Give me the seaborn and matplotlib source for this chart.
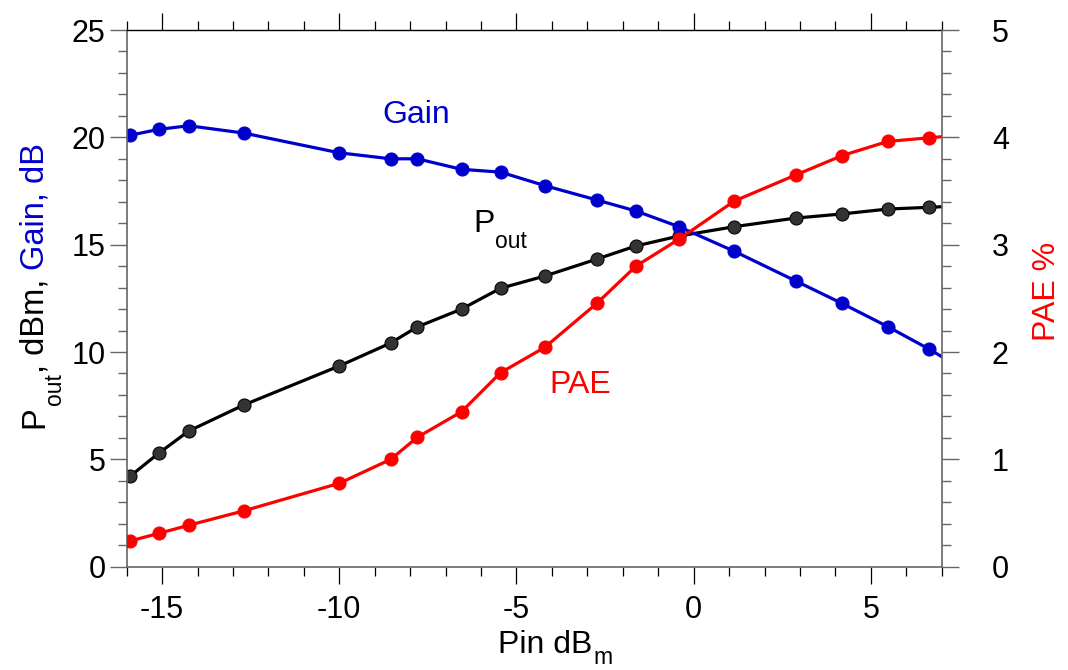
import numpy as np
import pandas as pd
import matplotlib
matplotlib.use("Agg")
import matplotlib.pyplot as plt
import seaborn as sns
from matplotlib.ticker import MultipleLocator
from matplotlib.transforms import IdentityTransform

# ---- data ----
pin = [-15.9, -15.1, -14.25, -12.7, -10.0, -8.55, -7.8, -6.55, -5.45, -4.2,
       -2.73, -1.63, -0.42, 1.15, 2.88, 4.18, 5.48, 6.65, 7.9]
gain = [20.1, 20.37, 20.54, 20.2, 19.28, 19.0, 19.0, 18.51, 18.38, 17.75,
        17.08, 16.57, 15.84, 14.69, 13.31, 12.27, 11.18, 10.13, 8.9]
pout = [4.22, 5.28, 6.32, 7.53, 9.35, 10.42, 11.17, 12.0, 12.97, 13.54,
        14.33, 14.94, 15.4, 15.84, 16.24, 16.43, 16.66, 16.74, 16.84]
pae = [0.24, 0.31, 0.386, 0.52, 0.777, 1.0, 1.205, 1.444, 1.807, 2.044,
       2.454, 2.80, 3.05, 3.407, 3.649, 3.829, 3.962, 3.996, 4.03]

x_ticks = [-15, -10, -5, 0, 5]
left_ticks = [0, 5, 10, 15, 20, 25]
right_ticks = [0, 1, 2, 3, 4, 5]

sns.set_style("ticks")
plt.rcParams['font.family'] = ['Liberation Sans', 'DejaVu Sans']
plt.rcParams['axes.unicode_minus'] = False
plt.rcParams['text.color'] = 'black'

W, H = 1068, 670
fig = plt.figure(figsize=(W / 100, H / 100), dpi=100)
ax = fig.add_axes([126.7 / W, 1 - 566.7 / H, (941.7 - 126.7) / W, (566.7 - 30) / H])
ax2 = ax.twinx()

BLUE = '#0000cc'
RED = '#ff0000'
GREY = '#666666'

df = pd.DataFrame({'pin': pin, 'gain': gain, 'pout': pout, 'pae': pae})
common = dict(marker='o', markersize=9.4, linewidth=2.3, sort=False)
sns.lineplot(data=df, x='pin', y='pout', ax=ax, color='black',
             markerfacecolor='#333333', markeredgecolor='black', **common)
sns.lineplot(data=df, x='pin', y='gain', ax=ax, color=BLUE,
             markerfacecolor=BLUE, markeredgecolor=BLUE, **common)
sns.lineplot(data=df, x='pin', y='pae', ax=ax2, color=RED,
             markerfacecolor=RED, markeredgecolor=RED, **common)

ax.set_xlim(-16, 7)
ax.set_ylim(0, 25)
ax2.set_ylim(0, 5)
ax.set_xticks(x_ticks)
ax.set_yticks(left_ticks)
ax2.set_yticks(right_ticks)
ax.xaxis.set_minor_locator(MultipleLocator(1))
ax.yaxis.set_minor_locator(MultipleLocator(1))
ax2.yaxis.set_minor_locator(MultipleLocator(0.2))
ax.set_xlabel('')
ax.set_ylabel('')
ax2.set_ylabel('')

ax.tick_params(axis='x', which='both', direction='out', top=True, bottom=True,
               labeltop=False, color='black', width=0.9)
ax.tick_params(axis='y', which='both', direction='out', left=True, right=False,
               color=GREY, width=1.0)
ax2.tick_params(axis='y', which='both', direction='out', right=True, left=False,
                color=GREY, width=1.0)
for a in (ax, ax2):
    a.tick_params(which='major', length=12.2, labelsize=22, labelcolor='black')
    a.tick_params(which='minor', length=6.5)
ax.tick_params(axis='x', which='major', pad=8)
ax.tick_params(axis='y', which='major', pad=3)
ax2.tick_params(axis='y', which='major', pad=24)

for s in ('left', 'bottom', 'right'):
    ax.spines[s].set_color(GREY)
    ax.spines[s].set_linewidth(1.2)
ax.spines['top'].set_color('black')
ax.spines['top'].set_linewidth(1.0)
ax.spines['right'].set_visible(False)
for s in ('left', 'bottom', 'top'):
    ax2.spines[s].set_visible(False)
ax2.spines['right'].set_color(GREY)
ax2.spines['right'].set_linewidth(1.2)
ax.grid(False)
ax2.grid(False)

fig.canvas.draw()
renderer = fig.canvas.get_renderer()


def chain(pieces, x0, y0, rot=0):
    pos = 0.0
    for txt, size, color, drop, gap in pieces:
        pos += gap
        if rot == 0:
            x, y = x0 + pos, y0 - drop
        else:
            x, y = x0 + drop, y0 + pos
        t = fig.text(x, y, txt, transform=IdentityTransform(), fontsize=size,
                     color=color, rotation=rot, rotation_mode='anchor',
                     ha='left', va='baseline')
        bb = t.get_window_extent(renderer)
        pos += bb.width if rot == 0 else bb.height


# in-plot annotations
ax.text(-7.82, 20.65, 'Gain', ha='center', va='baseline', color=BLUE, fontsize=23)
ax.text(-3.2, 8.08, 'PAE', ha='center', va='baseline', color=RED, fontsize=23)
px, py = ax.transData.transform((-6.23, 15.6))
chain([('P', 23, 'black', 0, 0), ('out', 16.5, 'black', 16, 1)], px, py)

# x label
chain([('Pin dB', 23, 'black', 0, 0), ('m', 16.5, 'black', 11, 1)], 498, H - 653.3)

# left y label (two colours)
sp = 0.278 * 23.5 * 100 / 72
chain([('P', 23.5, 'black', 0, 0), ('out', 16.5, 'black', 17, 1),
       (', dBm,', 23.5, 'black', 0, 0), ('Gain, dB', 23.5, BLUE, 0, sp)],
      43.5, H - 427.7, rot=90)

# right y label
fig.text(1055, H - 291, 'PAE %', transform=IdentityTransform(), rotation=90,
         rotation_mode='anchor', ha='center', va='baseline', color=RED, fontsize=23)

fig.savefig('out.png', dpi=100)
